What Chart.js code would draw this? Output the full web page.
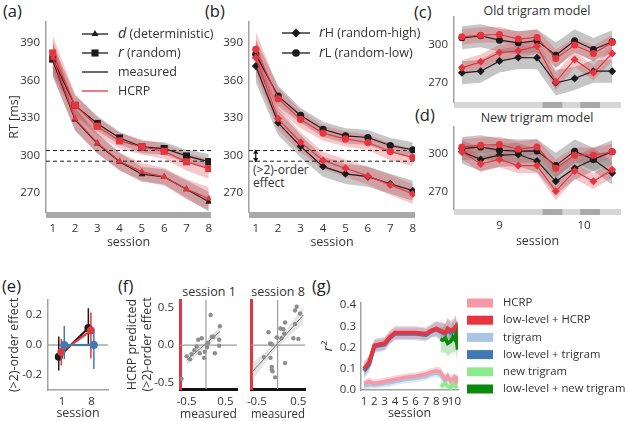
<!DOCTYPE html>
<html lang="en">
<head>
<meta charset="UTF-8">
<title>RT, trigram models and r2</title>
<script src="https://cdn.jsdelivr.net/npm/chart.js"></script>
<style>
    body { margin: 0; background: #fff; }
    #fig { position: relative; width: 625px; height: 421px; overflow: hidden; font-family: 'Open Sans', sans-serif; color: #333; }
    #fig canvas { position: absolute; left: 0; top: 0; }
    .pl { position: absolute; font-size: 16.5px; line-height: 1; color: #222; }
    .tt { position: absolute; font-size: 12.5px; line-height: 1; white-space: nowrap; transform: translate(-50%, -50%); }
    .note { position: absolute; font-size: 12px; line-height: 13px; white-space: nowrap; }
</style>
</head>
<body>
<div id="fig">
    <div class="pl" style="left:3px;top:3px">(a)</div>
    <div class="pl" style="left:205px;top:3px">(b)</div>
    <div class="pl" style="left:414px;top:4px">(c)</div>
    <div class="pl" style="left:415px;top:107px">(d)</div>
    <div class="pl" style="left:2px;top:278px">(e)</div>
    <div class="pl" style="left:118px;top:278px">(f)</div>
    <div class="pl" style="left:312px;top:278px">(g)</div>
    <div class="tt" style="left:537px;top:11px">Old trigram model</div>
    <div class="tt" style="left:537px;top:118px">New trigram model</div>
    <div class="tt" style="left:209px;top:292px">session 1</div>
    <div class="tt" style="left:278px;top:292px">session 8</div>
    <div class="note" style="left:253px;top:163px">(&gt;2)-order<br>effect</div>
</div>

<script>
    // ---- data ----
    const sessions = [1, 2, 3, 4, 5, 6, 7, 8];
    const rtTicks = [270, 300, 330, 360, 390];
    const effectLines = [304, 295.5];

    // (a) d = deterministic, r = random; measured vs HCRP
    const dMeas = [376, 328.7, 309.6, 295, 285.1, 283, 273.2, 263.1];
    const dHcrp = [378, 329.5, 310.1, 295.5, 287, 283, 273.2, 265.8];
    const rMeas = [377, 340, 325.5, 314, 306.9, 305.6, 299.7, 295.2];
    const rHcrp = [381.8, 340.1, 323.4, 311.7, 306.9, 303.4, 295, 289.6];
    const dMeasErr = [13, 9, 8, 7, 6, 6, 7, 8];
    const dHcrpErr = [14, 9, 8, 7, 7, 7, 8, 9];
    const rMeasErr = [12, 8, 6, 5, 5, 5, 5, 6];
    const rHcrpErr = [14, 9, 7, 6, 6, 6, 7, 8];

    // (b) rH = random-high, rL = random-low
    const hMeas = [371.4, 326.1, 307.4, 291.2, 285.4, 283.2, 277.5, 272];
    const hHcrp = [378, 329.3, 310.6, 296, 289.9, 283.8, 276.6, 269.4];
    const lMeas = [380.7, 347.4, 332, 321, 315.7, 314.4, 308, 304.6];
    const lHcrp = [384.7, 345.3, 328.8, 317.9, 313.3, 310.4, 303.2, 298.4];
    const hMeasErr = [13, 10, 9, 8, 8, 8, 8, 8];
    const hHcrpErr = [14, 9, 8, 7, 7, 7, 8, 8];
    const lMeasErr = [12, 8, 6, 6, 6, 6, 6, 6];
    const lHcrpErr = [14, 9, 7, 6, 6, 6, 7, 7];

    // (c) / (d) sessions 9-10, blocks
    const blocks = [1, 2, 3, 4, 5, 6, 7, 8, 9];
    const blockTicks = [3, 7.5];
    const blockLabels = ['9', '10'];
    const oldHMeas = [277.8, 279.1, 287, 289.8, 289.6, 270, 273.4, 279.1, 279.1];
    const oldHHcrp = [281.7, 286.4, 293.7, 295, 298.7, 270.8, 288.3, 277.8, 293];
    const oldLMeas = [305.2, 306.8, 303.4, 301.3, 302.9, 291.6, 302.9, 296.1, 302.1];
    const oldLHcrp = [306, 307.3, 307.8, 304.2, 305.5, 289, 299.5, 293, 301.6];
    const newHMeas = [301.3, 295.4, 298.7, 299.2, 294.2, 278.4, 288.6, 295.4, 284.8];
    const newHHcrp = [301.3, 291.9, 295.4, 290.6, 290.6, 270.8, 286.5, 278.4, 287.3];
    const newLMeas = [303.8, 305.1, 302.5, 301.8, 302, 290.6, 301.8, 295.4, 301.3];
    const newLHcrp = [305.1, 306.4, 306.9, 303.3, 305.1, 288.6, 298.7, 298.7, 301.3];
    const measErr9 = [9, 9, 9, 9, 9, 10, 9, 9, 9];
    const hcrpErr9 = [6, 6, 6, 6, 6, 7, 6, 6, 6];

    // (e) (>2)-order effect, sessions 1 and 8
    const eSess = [1, 8];
    const eDodge = [-0.75, -0.15, 0.55];
    const eMeas = [-0.078, 0.113], eMeasLo = [-0.17, 0.005], eMeasHi = [0.057, 0.245];
    const eHcrp = [-0.046, 0.096], eHcrpLo = [-0.137, -0.09], eHcrpHi = [0.04, 0.217];
    const eTri = [0, 0], eTriLo = [-0.094, -0.16], eTriHi = [0.127, 0.1];

    // (f) measured vs predicted per participant
    const f1X = [-0.63, -0.5, -0.41, -0.37, -0.3, -0.24, -0.2, -0.16, -0.11, -0.05, -0.03, 0.03, 0.06, 0.12, 0.15, 0.19, 0.23, 0.34, 0.34, 0.36];
    const f1Y = [-0.45, -0.15, -0.19, -0.12, -0.07, -0.02, 0.07, -0.11, 0.09, -0.17, -0.09, -0.03, 0.03, 0.4, 0.11, 0.11, -0.11, 0.07, -0.01, 0.25];
    const f1FitX = [-0.5, -0.25, 0, 0.2, 0.36];
    const f1Fit = [-0.2, -0.09, 0.02, 0.11, 0.18];
    const f1Ci = [0.08, 0.05, 0.035, 0.05, 0.08];
    const f8X = [0.46, 0.42, 0.54, -0.22, 0.18, 0.07, 0.14, 0.16, -0.02, 0.09, 0.38, 0.5, 0.42, -0.18, -0.14, -0.33, -0.17, -0.14, -0.14, -0.12, 0.18, -0.06];
    const f8Y = [0.51, 0.46, 0.42, 0.17, 0.3, 0.22, 0.21, 0.15, 0.1, 0.09, 0.09, 0.08, 0.28, 0.02, 0.01, -0.16, -0.17, -0.29, -0.33, -0.35, -0.24, -0.43];
    const f8FitX = [-0.62, -0.3, 0, 0.3, 0.62];
    const f8Fit = [-0.36, -0.17, 0.02, 0.2, 0.4];
    const f8Ci = [0.12, 0.07, 0.045, 0.07, 0.12];

    // (g) r^2 over sessions
    const gTicks = [1, 2, 3, 4, 5, 6, 7, 8, 8.87, 9.75];
    const gLabels = ['1', '2', '3', '4', '5', '6', '7', '8', '9', '10'];
    const gX = [1, 1.5, 2, 3, 3.5, 4, 5, 6, 7, 7.5, 8, 8.4, 8.87, 9.1, 9.4, 9.75, 9.9, 10.05];
    const gLowHcrp = [0.1, 0.13, 0.21, 0.22, 0.25, 0.27, 0.27, 0.27, 0.265, 0.28, 0.29, 0.28, 0.27, 0.29, 0.28, 0.29, 0.3, 0.22];
    const gLowTri = [0.09, 0.12, 0.205, 0.215, 0.245, 0.265, 0.265, 0.265, 0.26, 0.275, 0.285, 0.275, 0.265, 0.285, 0.27, 0.28, 0.29, 0.215];
    const gHcrp = [0.03, 0.04, 0.03, 0.04, 0.045, 0.05, 0.06, 0.065, 0.075, 0.085, 0.09, 0.085, 0.05, 0.065, 0.04, 0.06, 0.035, 0.065];
    const gTri = [0.02, 0.025, 0.025, 0.03, 0.035, 0.04, 0.05, 0.055, 0.065, 0.075, 0.08, 0.075, 0.04, 0.06, 0.05, 0.05, 0.04, 0.05];
    const gBigErr = [0.035, 0.035, 0.03, 0.03, 0.03, 0.03, 0.03, 0.03, 0.03, 0.03, 0.035, 0.04, 0.045, 0.05, 0.045, 0.05, 0.055, 0.055];
    const gSmallErr = [0.018, 0.018, 0.018, 0.018, 0.018, 0.018, 0.018, 0.018, 0.018, 0.018, 0.018, 0.022, 0.022, 0.022, 0.022, 0.022, 0.027, 0.027];
    const nX = [8.4, 8.6, 8.87, 9.1, 9.4, 9.6, 9.75, 9.9, 10.05];
    const gLowNew = [0.24, 0.235, 0.245, 0.22, 0.23, 0.25, 0.24, 0.26, 0.19];
    const gNew = [0.025, 0.02, 0.03, 0.02, 0.01, 0.03, 0.02, 0.015, 0.02];
    const gNewErr = [0.06, 0.06, 0.07, 0.06, 0.06, 0.07, 0.07, 0.07, 0.08];

    // ---- style ----
    const RED = '#e8343f', BLACK = '#1b1b1b', BLUE = '#3f7ab6';
    const GRAY_BAND = 'rgba(120,120,120,0.42)', RED_BAND = 'rgba(228,70,80,0.30)';
    const SPINE = '#a2a2a2';
    const FIG_W = 625, FIG_H = 421;

    Chart.defaults.font.family = "'Open Sans', sans-serif";
    Chart.defaults.font.size = 11.5;
    Chart.defaults.color = '#333';
    Chart.defaults.animation = false;
    Chart.defaults.plugins.legend.display = false;
    Chart.defaults.plugins.tooltip.enabled = false;

    function drawMarker(ctx, style, x, y, r, color) {
        ctx.fillStyle = color;
        ctx.beginPath();
        if (style === 'triangle') {
            ctx.moveTo(x, y - r); ctx.lineTo(x + r * 0.87, y + r * 0.5); ctx.lineTo(x - r * 0.87, y + r * 0.5);
        } else if (style === 'rect') {
            const s = r * 0.71; ctx.rect(x - s, y - s, 2 * s, 2 * s);
        } else if (style === 'rectRot') {
            ctx.moveTo(x, y - r); ctx.lineTo(x + r, y); ctx.lineTo(x, y + r); ctx.lineTo(x - r, y);
        } else {
            ctx.arc(x, y, r, 0, Math.PI * 2);
        }
        ctx.closePath();
        ctx.fill();
    }

    // legend drawn inside a panel
    const keyPlugin = {
        id: 'keys',
        afterDraw(chart, args, o) {
            if (!o.rows) return;
            const ctx = chart.ctx;
            ctx.save();
            o.rows.forEach((row, i) => {
                const y = o.y + i * o.dy;
                if (row.swatch) {
                    ctx.fillStyle = row.swatch;
                    ctx.fillRect(o.x, y - o.h / 2, o.len, o.h);
                } else {
                    ctx.strokeStyle = row.color; ctx.lineWidth = 1.3;
                    ctx.beginPath(); ctx.moveTo(o.x, y); ctx.lineTo(o.x + o.len, y); ctx.stroke();
                    if (row.marker) drawMarker(ctx, row.marker, o.x + o.len / 2, y, row.r, row.color);
                }
                let tx = o.x + o.len + o.gap;
                ctx.fillStyle = '#333'; ctx.textBaseline = 'middle'; ctx.textAlign = 'left';
                row.text.forEach(([t, style, size]) => {
                    ctx.font = style + ' ' + size + "px 'Open Sans', sans-serif";
                    ctx.fillText(t, tx, y);
                    tx += ctx.measureText(t).width;
                });
            });
            ctx.restore();
        }
    };

    // grey block bar under the x axis
    const barPlugin = {
        id: 'bar',
        beforeDraw(chart, args, o) {
            if (!o.segs) return;
            const { ctx, chartArea: a, scales: { x } } = chart;
            ctx.save();
            o.segs.forEach(([s, e, c]) => {
                const x0 = Math.max(a.left, x.getPixelForValue(s));
                const x1 = Math.min(a.right, x.getPixelForValue(e));
                ctx.fillStyle = c;
                ctx.fillRect(x0, a.bottom, x1 - x0, o.h);
            });
            ctx.restore();
        }
    };
    Chart.register(keyPlugin, barPlugin);

    const fig = document.getElementById('fig');
    function addChart(box, cfg) {
        const cv = document.createElement('canvas');
        cv.width = FIG_W; cv.height = FIG_H;
        fig.appendChild(cv);
        cfg.options.responsive = false;
        cfg.options.devicePixelRatio = 1;
        cfg.options.layout = { padding: { left: box.l - box.yw, top: box.t, right: FIG_W - box.r, bottom: FIG_H - box.b - box.xh } };
        cfg.options.scales.x.afterFit = s => { s.height = box.xh; };
        cfg.options.scales.y.afterFit = s => { s.width = box.yw; };
        return new Chart(cv, cfg);
    }

    const fixed = vals => s => { s.ticks = vals.map(v => ({ value: v })); };
    const pts = (xs, ys) => xs.map((x, i) => ({ x, y: ys[i] }));

    function band(xs, mean, err, color, order) {
        return [
            { data: xs.map((x, i) => ({ x, y: mean[i] - err[i] })), borderWidth: 0, pointRadius: 0, fill: false, order },
            { data: xs.map((x, i) => ({ x, y: mean[i] + err[i] })), borderWidth: 0, pointRadius: 0, fill: '-1', backgroundColor: color, order }
        ];
    }
    function trace(xs, ys, color, marker, r, order, width) {
        return {
            data: pts(xs, ys), borderColor: color, borderWidth: width || 1.2, tension: 0,
            pointStyle: marker || 'circle', pointRadius: marker ? r : 0,
            pointBackgroundColor: color, pointBorderWidth: 0, fill: false, order
        };
    }
    function hline(x0, x1, y, color, width, dash, order) {
        return { data: [{ x: x0, y }, { x: x1, y }], borderColor: color, borderWidth: width, borderDash: dash || [], pointRadius: 0, fill: false, order };
    }

    function rtScales(xMin, xMax, yMin, yMax, opts) {
        return {
            x: {
                type: 'linear', min: xMin, max: xMax, afterBuildTicks: fixed(opts.xTicks),
                grid: { display: false, drawTicks: false }, border: { display: false },
                ticks: { display: opts.xLabels !== null, padding: 10, maxRotation: 0, autoSkip: false, callback: opts.xLabels ? (v, i) => opts.xLabels[i] : v => v },
                title: { display: !!opts.xTitle, text: opts.xTitle, padding: 0, font: { size: 12.5 } }
            },
            y: {
                min: yMin, max: yMax, afterBuildTicks: fixed(opts.yTicks),
                grid: { display: false, drawTicks: false }, border: { color: SPINE, width: 1.5 },
                ticks: { padding: 6 },
                title: { display: !!opts.yTitle, text: opts.yTitle, padding: 0, font: { size: 12.5 } }
            }
        };
    }

    // ---- (a) ----
    addChart({ l: 46, t: 22, r: 211, b: 212, yw: 39, xh: 38 }, {
        type: 'line',
        data: { datasets: [
            ...band(sessions, dMeas, dMeasErr, GRAY_BAND, 9),
            ...band(sessions, rMeas, rMeasErr, GRAY_BAND, 9),
            ...band(sessions, dHcrp, dHcrpErr, RED_BAND, 8),
            ...band(sessions, rHcrp, rHcrpErr, RED_BAND, 8),
            hline(0.7, 8.1, effectLines[0], BLACK, 1, [4, 3], 6),
            hline(0.7, 8.1, effectLines[1], BLACK, 1, [4, 3], 6),
            trace(sessions, dMeas, BLACK, 'triangle', 4, 4),
            trace(sessions, rMeas, BLACK, 'rect', 5, 4),
            trace(sessions, dHcrp, RED, 'triangle', 4, 2),
            trace(sessions, rHcrp, RED, 'rect', 5, 2)
        ] },
        options: {
            scales: rtScales(0.7, 8.1, 255, 406.5, { xTicks: sessions, yTicks: rtTicks, xTitle: 'session', yTitle: 'RT [ms]' }),
            plugins: {
                bar: { segs: [[0.7, 8.1, '#a9a9a9']], h: 6 },
                keys: { x: 82, y: 34, dy: 19, len: 26, gap: 10, rows: [
                    { color: BLACK, marker: 'triangle', r: 4, text: [['d', 'italic', 14.5], [' (deterministic)', 'normal', 12.5]] },
                    { color: BLACK, marker: 'rect', r: 5, text: [['r', 'italic', 14.5], [' (random)', 'normal', 12.5]] },
                    { color: BLACK, text: [['measured', 'normal', 12.5]] },
                    { color: RED, text: [['HCRP', 'normal', 12.5]] }
                ] }
            }
        }
    });

    // ---- (b) ----
    addChart({ l: 249, t: 22, r: 415, b: 212, yw: 30, xh: 38 }, {
        type: 'line',
        data: { datasets: [
            ...band(sessions, hMeas, hMeasErr, GRAY_BAND, 9),
            ...band(sessions, lMeas, lMeasErr, GRAY_BAND, 9),
            ...band(sessions, hHcrp, hHcrpErr, RED_BAND, 8),
            ...band(sessions, lHcrp, lHcrpErr, RED_BAND, 8),
            hline(0.7, 8.1, effectLines[0], BLACK, 1, [4, 3], 6),
            hline(0.7, 8.1, effectLines[1], BLACK, 1, [4, 3], 6),
            {
                data: [{ x: 1, y: effectLines[1] + 1.3 }, { x: 1, y: effectLines[0] - 1.3 }],
                borderColor: BLACK, borderWidth: 1.3, pointStyle: 'triangle', pointRadius: 3,
                pointRotation: [180, 0], pointBackgroundColor: BLACK, pointBorderWidth: 0, order: 1
            },
            trace(sessions, hMeas, BLACK, 'rectRot', 4, 4),
            trace(sessions, lMeas, BLACK, 'circle', 3.6, 4),
            trace(sessions, hHcrp, RED, 'rectRot', 4, 2),
            trace(sessions, lHcrp, RED, 'circle', 3.6, 2)
        ] },
        options: {
            scales: rtScales(0.7, 8.1, 255, 406.5, { xTicks: sessions, yTicks: rtTicks, xTitle: 'session' }),
            plugins: {
                bar: { segs: [[0.7, 8.1, '#a9a9a9']], h: 6 },
                keys: { x: 282, y: 33, dy: 20, len: 28, gap: 9, rows: [
                    { color: BLACK, marker: 'rectRot', r: 4.5, text: [['r', 'italic', 14.5], ['H (random-high)', 'normal', 12.5]] },
                    { color: BLACK, marker: 'circle', r: 3.8, text: [['r', 'italic', 14.5], ['L (random-low)', 'normal', 12.5]] }
                ] }
            }
        }
    });

    // ---- (c) and (d) ----
    const blockSegs = [[0.58, 9.47, '#d6d6d6'], [5.3, 6.35, '#a9a9a9'], [7.3, 8.35, '#a9a9a9']];
    function trigramPanel(box, yMin, yMax, hM, hH, lM, lH, labels, title) {
        addChart(box, {
            type: 'line',
            data: { datasets: [
                ...band(blocks, hM, measErr9, GRAY_BAND, 9),
                ...band(blocks, lM, measErr9, GRAY_BAND, 9),
                ...band(blocks, hH, hcrpErr9, RED_BAND, 8),
                ...band(blocks, lH, hcrpErr9, RED_BAND, 8),
                trace(blocks, hM, BLACK, 'rectRot', 4, 4),
                trace(blocks, lM, BLACK, 'circle', 3.5, 4),
                trace(blocks, hH, RED, 'rectRot', 4, 2),
                trace(blocks, lH, RED, 'circle', 3.5, 2)
            ] },
            options: {
                scales: rtScales(0.58, 9.47, yMin, yMax, { xTicks: blockTicks, xLabels: labels, yTicks: [270, 300], xTitle: title }),
                plugins: { bar: { segs: blockSegs, h: 6 } }
            }
        });
    }
    trigramPanel({ l: 454, t: 17, r: 623, b: 102, yw: 30, xh: 20 }, 255, 321.5, oldHMeas, oldHHcrp, oldLMeas, oldLHcrp, null, '');
    trigramPanel({ l: 454, t: 127, r: 623, b: 209, yw: 30, xh: 40 }, 257, 320.5, newHMeas, newHHcrp, newLMeas, newLHcrp, blockLabels, 'session');

    // ---- (e) ----
    function errBars(dodge, lo, hi, color, order) {
        return eSess.map((s, i) => ({
            data: [{ x: s + dodge, y: lo[i] }, { x: s + dodge, y: hi[i] }],
            borderColor: color, borderWidth: 1.5, pointRadius: 0, fill: false, order
        }));
    }
    addChart({ l: 48, t: 300, r: 108, b: 390, yw: 41, xh: 31 }, {
        type: 'line',
        data: { datasets: [
            hline(-2.3, 11.9, 0, '#a8a8a8', 1.5, [], 10),
            ...errBars(eDodge[0], eMeasLo, eMeasHi, BLACK, 6),
            ...errBars(eDodge[1], eHcrpLo, eHcrpHi, RED, 4),
            ...errBars(eDodge[2], eTriLo, eTriHi, BLUE, 2),
            trace(eSess.map(s => s + eDodge[0]), eMeas, BLACK, 'circle', 4, 5, 2.2),
            trace(eSess.map(s => s + eDodge[1]), eHcrp, RED, 'circle', 4, 3, 2.2),
            trace(eSess.map(s => s + eDodge[2]), eTri, BLUE, 'circle', 4, 1, 2.2)
        ] },
        options: {
            scales: {
                x: {
                    type: 'linear', min: -2.3, max: 11.9, afterBuildTicks: fixed(eSess),
                    grid: { display: false, drawTicks: false }, border: { color: SPINE, width: 1.5 },
                    ticks: { padding: 5 },
                    title: { display: true, text: 'session', padding: 0, font: { size: 12.5 } }
                },
                y: {
                    min: -0.3, max: 0.3, afterBuildTicks: fixed([-0.2, 0, 0.2]),
                    grid: { display: false, drawTicks: false }, border: { color: SPINE, width: 1.5 },
                    ticks: { padding: 6, callback: v => v.toFixed(1) },
                    title: { display: true, text: '(>2)-order effect', padding: 0, font: { size: 12.5 } }
                }
            }
        }
    });

    // ---- (f) ----
    function scatterPanel(box, xMin, xMax, xs, ys, fitX, fit, ci, showY) {
        addChart(box, {
            type: 'line',
            data: { datasets: [
                ...band(fitX, fit, ci, 'rgba(170,170,170,0.3)', 9),
                hline(xMin, xMax, 0, '#9c9c9c', 1.2, [], 7),
                { data: [{ x: 0, y: -0.585 }, { x: 0, y: 0.6 }], borderColor: '#9c9c9c', borderWidth: 1.2, pointRadius: 0, fill: false, order: 7 },
                trace(fitX, fit, '#7a7a7a', null, 0, 5, 1),
                { data: pts(xs, ys), showLine: false, pointRadius: 2.2, pointBackgroundColor: '#8d8d8d', pointBorderWidth: 0, order: 3 }
            ] },
            options: {
                scales: {
                    x: {
                        type: 'linear', min: xMin, max: xMax, afterBuildTicks: fixed([-0.5, 0.5]),
                        grid: { display: false, drawTicks: false }, border: { color: '#111', width: 3 },
                        ticks: { padding: 6, callback: v => v.toFixed(1) },
                        title: { display: true, text: 'measured', padding: 0, font: { size: 12.5 } }
                    },
                    y: {
                        min: -0.585, max: 0.6, afterBuildTicks: fixed([-0.5, 0, 0.5]),
                        grid: { display: false, drawTicks: false }, border: { color: RED, width: 3 },
                        ticks: { display: showY, padding: 6, callback: v => v.toFixed(1) },
                        title: { display: showY, text: ['HCRP predicted', '(>2)-order effect'], padding: 0, font: { size: 12.5 } }
                    }
                }
            }
        });
    }
    scatterPanel({ l: 180, t: 300, r: 237, b: 389, yw: 55, xh: 33 }, -0.67, 0.8, f1X, f1Y, f1FitX, f1Fit, f1Ci, true);
    scatterPanel({ l: 251, t: 300, r: 305, b: 389, yw: 0, xh: 33 }, -0.64, 0.66, f8X, f8Y, f8FitX, f8Fit, f8Ci, false);

    // ---- (g) ----
    addChart({ l: 361, t: 303, r: 458, b: 390, yw: 41, xh: 31 }, {
        type: 'line',
        data: { datasets: [
            ...band(gX, gTri, gSmallErr, 'rgba(170,195,225,0.4)', 20),
            ...band(gX, gHcrp, gSmallErr, 'rgba(245,150,165,0.4)', 19),
            ...band(nX, gNew, gSmallErr.slice(0, nX.length), 'rgba(140,230,140,0.4)', 18),
            ...band(gX, gLowTri, gBigErr, 'rgba(110,150,205,0.3)', 17),
            ...band(gX, gLowHcrp, gBigErr, 'rgba(200,110,135,0.35)', 16),
            ...band(nX, gLowNew, gNewErr, 'rgba(60,170,60,0.28)', 15),
            trace(gX, gTri, '#aac4e2', null, 0, 9, 3.5),
            trace(gX, gHcrp, '#f49aa6', null, 0, 8, 3.5),
            trace(nX, gNew, '#8fea8f', null, 0, 7, 3.5),
            trace(gX, gLowTri, BLUE, null, 0, 6, 4),
            trace(gX, gLowHcrp, RED, null, 0, 5, 4),
            trace(nX, gLowNew, '#0a8a0a', null, 0, 4, 3.5)
        ] },
        options: {
            scales: {
                x: {
                    type: 'linear', min: 0.71, max: 10.1, afterBuildTicks: fixed(gTicks),
                    grid: { display: false, drawTicks: false }, border: { color: SPINE, width: 1.5 },
                    ticks: { padding: 5, autoSkip: false, maxRotation: 0, callback: (v, i) => gLabels[i] },
                    title: { display: true, text: 'session', padding: 0, font: { size: 12.5 } }
                },
                y: {
                    min: 0, max: 0.41, afterBuildTicks: fixed([0, 0.1, 0.2, 0.3, 0.4]),
                    grid: { display: false, drawTicks: false }, border: { color: SPINE, width: 1.5 },
                    ticks: { padding: 5, callback: v => v.toFixed(1) },
                    title: { display: true, text: 'r²', padding: 0, font: { size: 13, style: 'italic' } }
                }
            },
            plugins: {
                keys: { x: 467, y: 303, dy: 17.2, len: 26, h: 9, gap: 10, rows: [
                    { swatch: '#f49aa6', text: [['HCRP', 'normal', 11.3]] },
                    { swatch: RED, text: [['low-level + HCRP', 'normal', 11.3]] },
                    { swatch: '#aac4e2', text: [['trigram', 'normal', 11.3]] },
                    { swatch: BLUE, text: [['low-level + trigram', 'normal', 11.3]] },
                    { swatch: '#8fea8f', text: [['new trigram', 'normal', 11.3]] },
                    { swatch: '#0a8a0a', text: [['low-level + new trigram', 'normal', 11.3]] }
                ] }
            }
        }
    });
</script>
</body>
</html>
